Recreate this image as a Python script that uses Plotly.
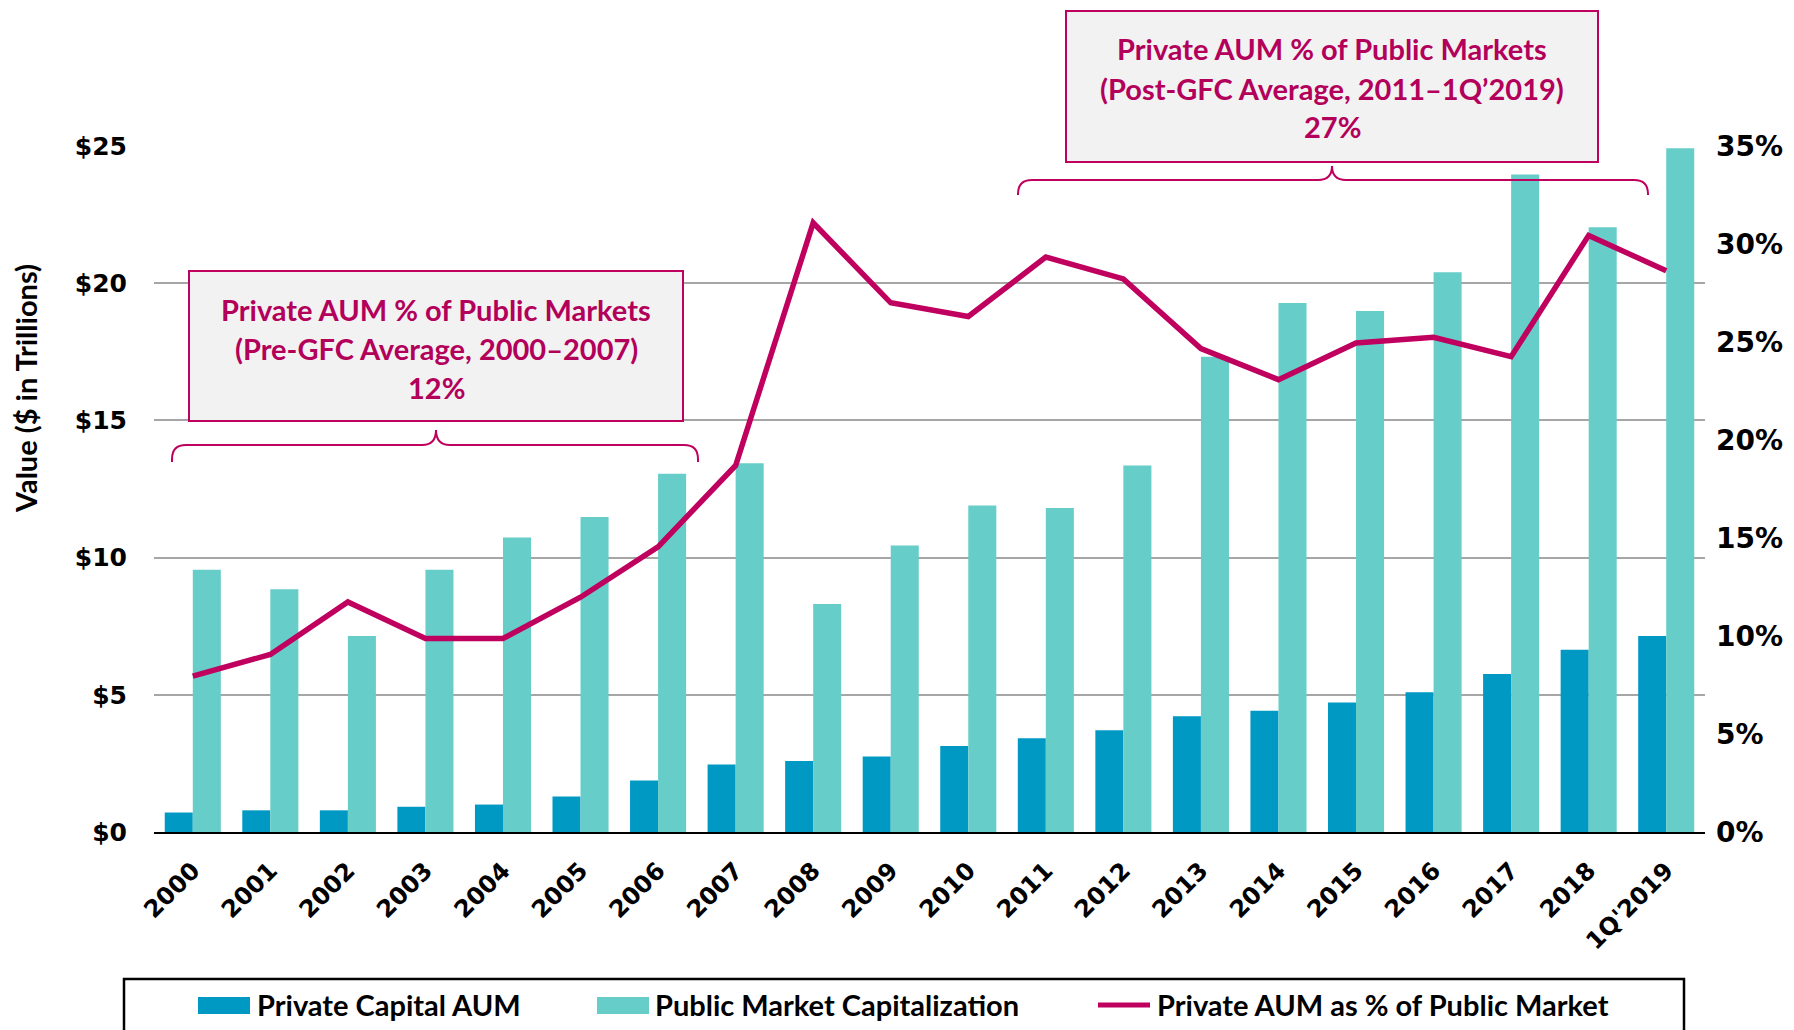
import plotly.graph_objects as go

# data
years = ["2000", "2001", "2002", "2003", "2004", "2005", "2006", "2007", "2008", "2009",
         "2010", "2011", "2012", "2013", "2014", "2015", "2016", "2017", "2018", "1Q'2019"]
private_aum = [0.71, 0.79, 0.79, 0.92, 1.00, 1.29, 1.88, 2.46, 2.59, 2.75,
               3.13, 3.42, 3.71, 4.22, 4.42, 4.72, 5.09, 5.76, 6.64, 7.14]
public_cap = [9.56, 8.85, 7.14, 9.56, 10.73, 11.48, 13.06, 13.44, 8.31, 10.44,
              11.90, 11.81, 13.36, 17.32, 19.28, 18.99, 20.40, 23.96, 22.04, 24.92]
private_pct = [7.95, 9.06, 11.74, 9.87, 9.87, 11.98, 14.55, 18.70, 31.08, 27.00,
               26.30, 29.33, 28.22, 24.66, 23.08, 24.95, 25.24, 24.25, 30.44, 28.63]

pre_gfc_text = ["Private AUM % of Public Markets", "(Pre-GFC Average, 2000\u20132007)", "12%"]
post_gfc_text = ["Private AUM % of Public Markets", "(Post-GFC Average, 2011\u20131Q\u20192019)", "27%"]

BLUE = "#0099C4"
TEAL = "#66CDC8"
MAGENTA = "#C0005E"
TEXT_MAG = "#B3005A"

W, H = 1794, 1030
OFF = 8  # page body margin, the figure starts 8px in
# plot area in page pixels
L, R, T, B = 154, 1705, 146, 832


def px(x):
    return (x - L) / (R - L)


def py(y):
    return (B - y) / (B - T)


def brace_path(x0, x1, xt, y_end, y_line, y_tip, r=14):
    pts = [
        f"M {px(x0)},{py(y_end)}",
        f"L {px(x0)},{py(y_line + r)}",
        f"Q {px(x0)},{py(y_line)} {px(x0 + r)},{py(y_line)}",
        f"L {px(xt - r)},{py(y_line)}",
        f"Q {px(xt)},{py(y_line)} {px(xt)},{py(y_tip)}",
        f"Q {px(xt)},{py(y_line)} {px(xt + r)},{py(y_line)}",
        f"L {px(x1 - r)},{py(y_line)}",
        f"Q {px(x1)},{py(y_line)} {px(x1)},{py(y_line + r)}",
        f"L {px(x1)},{py(y_end)}",
    ]
    return " ".join(pts)


fig = go.Figure()

fig.add_trace(go.Bar(x=years, y=private_aum, name="Private Capital AUM",
                     marker=dict(color=BLUE, line=dict(width=0))))
fig.add_trace(go.Bar(x=years, y=public_cap, name="Public Market Capitalization",
                     marker=dict(color=TEAL, line=dict(width=0))))
fig.add_trace(go.Scatter(x=years, y=private_pct, name="Private AUM as % of Public Market",
                         mode="lines", yaxis="y2",
                         line=dict(color=MAGENTA, width=5.5)))

shapes = []
annotations = []

# callout boxes
boxes = [
    (189, 683, 271, 421, pre_gfc_text, [309, 348, 387]),
    (1066, 1598, 11, 162, post_gfc_text, [49, 88, 127]),
]
for x0, x1, y0, y1, lines, ys in boxes:
    shapes.append(dict(type="rect", xref="paper", yref="paper",
                       x0=px(x0), x1=px(x1), y0=py(y1), y1=py(y0),
                       fillcolor="#F2F2F2", line=dict(color=MAGENTA, width=2), layer="above"))
    for txt, yy in zip(lines, ys):
        annotations.append(dict(text=txt, xref="paper", yref="paper",
                                x=px((x0 + x1) / 2), y=py(yy), showarrow=False,
                                xanchor="center", yanchor="middle",
                                font=dict(family="Lato", size=29, color=TEXT_MAG, weight="bold")))

# braces
shapes.append(dict(type="path", xref="paper", yref="paper",
                   path=brace_path(172, 698, 436, 462, 445, 430),
                   line=dict(color=MAGENTA, width=2)))
shapes.append(dict(type="path", xref="paper", yref="paper",
                   path=brace_path(1018, 1648, 1332, 195, 180, 166),
                   line=dict(color=MAGENTA, width=2)))

# legend drawn by hand to match the wide swatches
shapes.append(dict(type="rect", xref="paper", yref="paper",
                   x0=px(124), x1=px(1684), y0=py(1060), y1=py(979),
                   line=dict(color="black", width=2.5), fillcolor="rgba(0,0,0,0)"))
legend_items = [
    ("rect", BLUE, 198, 250, 255, "Private Capital AUM"),
    ("rect", TEAL, 597, 649, 653, "Public Market Capitalization"),
    ("line", MAGENTA, 1098, 1150, 1155, "Private AUM as % of Public Market"),
]
leg_y = 1005
for kind, col, sx0, sx1, tx, label in legend_items:
    if kind == "rect":
        shapes.append(dict(type="rect", xref="paper", yref="paper",
                           x0=px(sx0), x1=px(sx1), y0=py(leg_y + 9), y1=py(leg_y - 8),
                           fillcolor=col, line=dict(width=0)))
    else:
        shapes.append(dict(type="line", xref="paper", yref="paper",
                           x0=px(sx0), x1=px(sx1), y0=py(leg_y), y1=py(leg_y),
                           line=dict(color=col, width=5)))
    annotations.append(dict(text=label, xref="paper", yref="paper",
                            x=px(tx), y=py(leg_y - 1), showarrow=False,
                            xanchor="left", yanchor="middle",
                            font=dict(family="Lato", size=29, color="black", weight="bold")))

# y axis title
annotations.append(dict(text="Value ($ in Trillions)", xref="paper", yref="paper",
                        x=px(25), y=py(389), showarrow=False, textangle=-90,
                        xanchor="center", yanchor="middle",
                        font=dict(family="Lato", size=29, color="black", weight="bold")))

tick_font = dict(family="DejaVu Sans", size=25, color="black", weight="bold")

fig.update_layout(
    width=W, height=H,
    margin=dict(l=L - OFF, r=W - (R - OFF), t=T - OFF, b=H - (B - OFF), autoexpand=False),
    paper_bgcolor="white", plot_bgcolor="white",
    barmode="group", bargap=0.277, bargroupgap=0,
    showlegend=False,
    shapes=shapes,
    annotations=annotations,
    xaxis=dict(
        type="category", tickangle=-45, tickfont=dict(tick_font, size=24),
        showgrid=False, showline=True, linecolor="black", linewidth=2,
        ticks="", ticklabelstandoff=13,
    ),
    yaxis=dict(
        range=[0, 25], dtick=5, tickprefix="$", tickfont=tick_font,
        showgrid=True, gridcolor="#A6A6A6", gridwidth=2,
        zeroline=False, showline=False, ticks="", ticklabelstandoff=26,
    ),
    yaxis2=dict(
        range=[0, 35], dtick=5, ticksuffix="%", overlaying="y", side="right",
        tickfont=dict(tick_font, size=28), showgrid=False, zeroline=False, showline=False,
        ticks="", ticklabelstandoff=10,
    ),
)

fig.write_html("out.html")
